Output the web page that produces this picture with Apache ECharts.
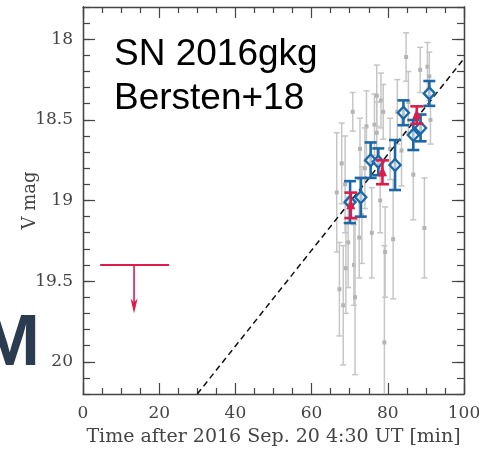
<!DOCTYPE html>
<html>
<head>
<meta charset="utf-8">
<script src="https://cdn.jsdelivr.net/npm/echarts@6/dist/echarts.min.js"></script>
<style>
html,body{margin:0;padding:0;background:#fff;}
#chart{width:479px;height:449px;}
</style>
</head>
<body>
<div id="chart"></div>
<script>
// tick values
var xTicks = [0, 20, 40, 60, 80, 100];
var yTicks = [18, 18.5, 19, 19.5, 20];

// gray points: [time, mag, err]
var grayPts = [
  [66.6, 18.95, 0.37], [67.3, 19.55, 0.29], [67.9, 18.77, 0.25], [68.3, 19.65, 0.37],
  [68.8, 18.90, 0.30], [69.0, 19.42, 0.28], [69.6, 19.26, 0.28], [70.8, 18.45, 0.12],
  [71.1, 19.40, 0.25], [71.4, 19.60, 0.48], [72.5, 19.23, 0.25], [72.7, 18.68, 0.19],
  [73.2, 19.09, 0.30], [74.4, 18.54, 0.22], [74.0, 18.80, 0.25], [75.8, 19.20, 0.28],
  [76.5, 18.53, 0.19], [77.1, 18.35, 0.19], [77.1, 18.58, 0.19], [78.0, 19.00, 0.20],
  [78.2, 18.38, 0.17], [78.8, 18.45, 0.17], [79.1, 19.88, 0.60], [79.3, 19.32, 0.28],
  [80.6, 18.68, 0.19], [81.4, 19.24, 0.37], [82.5, 18.45, 0.20], [83.6, 18.69, 0.22],
  [84.8, 18.11, 0.15], [85.4, 18.39, 0.19], [86.7, 18.84, 0.28], [88.5, 18.19, 0.14],
  [89.6, 19.17, 0.31], [90.4, 18.17, 0.15], [90.9, 18.23, 0.15], [91.2, 18.50, 0.15]
];
// blue diamonds
var bluePts = [
  [70.1, 19.01, 0.13], [72.9, 18.98, 0.12], [75.5, 18.75, 0.11], [77.5, 18.76, 0.083],
  [81.9, 18.78, 0.155], [84.1, 18.456, 0.077], [86.7, 18.594, 0.093], [88.6, 18.55, 0.083],
  [90.9, 18.336, 0.077]
];
// red triangles
var redPts = [
  [70.3, 19.03, 0.079], [78.6, 18.825, 0.074], [87.6, 18.47, 0.054]
];
// dashed fit
var fitLine = [[30, 20.2], [100, 18.12]];
// upper limit: [time, mag, arrow to, span from, span to]
var limitPts = [[13.4, 19.4, 19.7, 4.5, 22.6]];

var gray = '#c6c6c6', blue = '#1c68a6', red = '#dc1c4c';

function errBar(lineStyle, capW, marker) {
  return function (params, api) {
    var t = api.value(0), m = api.value(1), e = api.value(2);
    var p = api.coord([t, m]);
    var hi = api.coord([t, m - e]);
    var lo = api.coord([t, m + e]);
    var h = capW / 2;
    return {
      type: 'group',
      children: [
        {type: 'line', shape: {x1: p[0], y1: hi[1], x2: p[0], y2: lo[1]}, style: lineStyle},
        {type: 'line', shape: {x1: p[0] - h, y1: hi[1], x2: p[0] + h, y2: hi[1]}, style: lineStyle},
        {type: 'line', shape: {x1: p[0] - h, y1: lo[1], x2: p[0] + h, y2: lo[1]}, style: lineStyle},
        marker(p)
      ]
    };
  };
}

var axisLine = {show: true, lineStyle: {color: '#444', width: 1.3}};
var tickStyle = {color: '#444', width: 1.2};
var labelFont = {color: '#444', fontFamily: 'DejaVu Serif', fontSize: 17};

function xAx(pos, labels) {
  return {
    type: 'value', min: 0, max: 100, interval: 20, position: pos,
    axisLine: axisLine,
    axisTick: {inside: true, length: 11, lineStyle: tickStyle},
    minorTick: {show: true, splitNumber: 4, length: 6, lineStyle: tickStyle},
    axisLabel: Object.assign({show: labels, margin: 11}, labelFont),
    splitLine: {show: false},
    name: labels ? 'Time after 2016 Sep. 20 4:30 UT [min]' : '',
    nameLocation: 'middle', nameGap: 34, nameMoveOverlap: false,
    nameTextStyle: {color: '#444', fontFamily: 'DejaVu Serif', fontSize: 19}
  };
}
function yMinor(pos) {
  return {
    type: 'value', inverse: true, min: 17.8, max: 20.2, interval: 0.1, position: pos,
    axisLine: axisLine,
    axisTick: {inside: true, length: 7, lineStyle: tickStyle},
    axisLabel: {show: false},
    splitLine: {show: false}
  };
}
function yMajor(pos, labels) {
  return {
    type: 'value', inverse: true, min: 17.8, max: 20.2, position: pos,
    axisLine: axisLine,
    axisTick: {inside: true, length: 12, customValues: yTicks, lineStyle: tickStyle},
    axisLabel: Object.assign({show: labels, customValues: yTicks, margin: 10}, labelFont),
    splitLine: {show: false},
    name: labels ? 'V mag' : '',
    nameLocation: 'middle', nameGap: 44, nameMoveOverlap: false,
    nameTextStyle: {color: '#444', fontFamily: 'DejaVu Serif', fontSize: 18}
  };
}

var chart = echarts.init(document.getElementById('chart'));
chart.setOption({
  animation: false,
  backgroundColor: '#fff',
  grid: {left: 83, right: 15, top: 7, bottom: 55, outerBoundsMode: 'none', containLabel: false},
  xAxis: [xAx('bottom', true), xAx('top', false)],
  yAxis: [yMinor('left'), yMajor('left', true), yMinor('right'), yMajor('right', false)],
  graphic: [
    {type: 'text', left: 114, top: 36, style: {text: 'SN 2016gkg', font: '37px "Liberation Sans"', fill: '#000'}},
    {type: 'text', left: 114, top: 80, style: {text: 'Bersten+18', font: '37px "Liberation Sans"', fill: '#000'}},
    {type: 'text', right: 439, top: 308, style: {text: 'M', font: 'bold 73px "Liberation Sans"', fill: '#2b3b50'}}
  ],
  series: [
    {
      type: 'custom', clip: true, data: grayPts,
      renderItem: errBar({stroke: gray, lineWidth: 1.5}, 6, function (p) {
        return {type: 'rect', shape: {x: p[0] - 2, y: p[1] - 2, width: 4, height: 4}, style: {fill: '#b4b4b4'}};
      })
    },
    {
      type: 'line', data: fitLine, showSymbol: false, z: 3,
      lineStyle: {color: '#111', width: 1.5, type: [6, 4]}
    },
    {
      type: 'custom', clip: true, data: bluePts, z: 4,
      renderItem: errBar({stroke: blue, lineWidth: 2.6}, 12, function (p) {
        return {type: 'polygon', shape: {points: [[p[0], p[1] - 6], [p[0] + 5.5, p[1]], [p[0], p[1] + 6], [p[0] - 5.5, p[1]]]},
          style: {fill: 'rgba(255,255,255,0.6)', stroke: blue, lineWidth: 2.4}};
      })
    },
    {
      type: 'custom', clip: true, data: redPts, z: 5,
      renderItem: errBar({stroke: red, lineWidth: 2.6}, 13, function (p) {
        return {type: 'polygon', shape: {points: [[p[0], p[1] - 6], [p[0] + 4.5, p[1] + 4], [p[0] - 4.5, p[1] + 4]]},
          style: {fill: red}};
      })
    },
    {
      type: 'custom', data: limitPts, z: 5,
      renderItem: function (params, api) {
        var p = api.coord([api.value(0), api.value(1)]);
        var tip = api.coord([api.value(0), api.value(2)]);
        var a = api.coord([api.value(3), api.value(1)]);
        var b = api.coord([api.value(4), api.value(1)]);
        var st = {stroke: red, lineWidth: 2};
        return {
          type: 'group',
          children: [
            {type: 'line', shape: {x1: a[0], y1: p[1], x2: b[0], y2: p[1]}, style: st},
            {type: 'line', shape: {x1: p[0], y1: p[1], x2: p[0], y2: tip[1] - 6}, style: {stroke: red, lineWidth: 1.6}},
            {type: 'polygon', shape: {points: [[p[0] - 3.5, tip[1] - 15], [p[0], tip[1]], [p[0] + 3.5, tip[1] - 15], [p[0], tip[1] - 11]]}, style: {fill: red}}
          ]
        };
      }
    }
  ]
});
</script>
</body>
</html>
